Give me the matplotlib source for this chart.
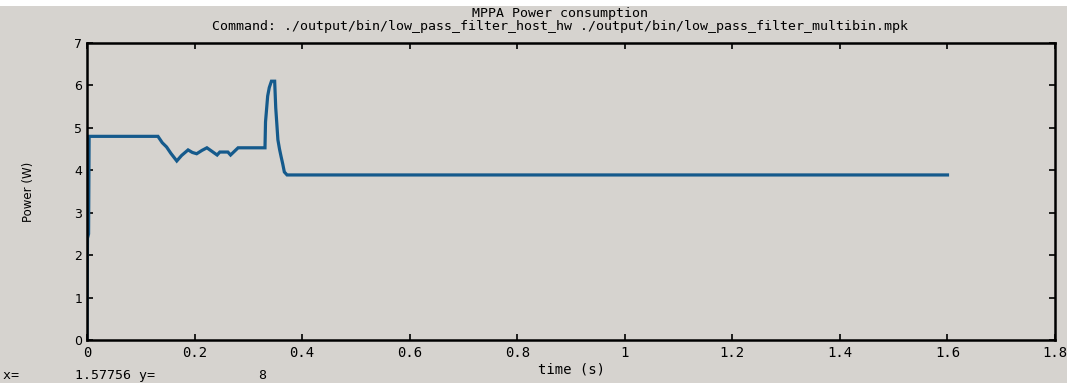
import matplotlib
matplotlib.use("Agg")
import matplotlib.pyplot as plt
from matplotlib.patches import Rectangle

# data
time_s = [0.0, 0.001, 0.003, 0.004, 0.132, 0.140, 0.148, 0.156, 0.167, 0.176, 0.188,
          0.196, 0.204, 0.214, 0.223, 0.232, 0.242, 0.247, 0.262, 0.267, 0.281,
          0.331, 0.332, 0.336, 0.339, 0.343, 0.349, 0.351, 0.353, 0.355, 0.358,
          0.361, 0.364, 0.367, 0.372, 1.60]
power_w = [0.0, 2.4, 2.5, 4.8, 4.8, 4.65, 4.55, 4.4, 4.22, 4.35, 4.48,
           4.42, 4.39, 4.47, 4.53, 4.45, 4.36, 4.43, 4.43, 4.36, 4.53,
           4.53, 5.14, 5.75, 5.95, 6.1, 6.1, 5.47, 5.1, 4.72, 4.5,
           4.32, 4.15, 3.96, 3.89, 3.89]

x_ticks = [0, 0.2, 0.4, 0.6, 0.8, 1, 1.2, 1.4, 1.6, 1.8]
x_tick_labels = ["0", "0.2", "0.4", "0.6", "0.8", "1", "1.2", "1.4", "1.6", "1.8"]
y_ticks = [0, 1, 2, 3, 4, 5, 6, 7]

bg = "#d6d3cf"
W, H = 1067, 383
fig = plt.figure(figsize=(W / 100, H / 100), dpi=100, facecolor=bg)
fig.patches.append(Rectangle((0, 1 - 6 / H), 1, 6 / H, transform=fig.transFigure,
                             facecolor="white", edgecolor="none", zorder=0))
ax = fig.add_axes([0.0815, 0.1123, 0.9073, 0.7754], facecolor=bg)

ax.plot(time_s, power_w, color="#155a8c", lw=2.3, solid_joinstyle="miter")

ax.set_xlim(0, 1.8)
ax.set_ylim(0, 7)
ax.set_xticks(x_ticks)
ax.set_xticklabels(x_tick_labels)
ax.set_yticks(y_ticks)
ax.tick_params(direction="in", length=4, width=1.2, top=True, right=True,
               labelsize=9, colors="black")
ax.tick_params(axis="x", labelsize=10, pad=4)
for lbl in ax.get_xticklabels():
    lbl.set_family("DejaVu Sans Mono")
for s in ax.spines.values():
    s.set_linewidth(1.8)
    s.set_color("black")

ax.set_xlabel("time (s)", family="DejaVu Sans Mono", fontsize=10, labelpad=2)
ax.set_ylabel("Power (W)", fontsize=8.5, labelpad=28)

mono = dict(family="DejaVu Sans Mono", fontsize=9.5)
fig.text(560 / W, 1 - 13 / H, "MPPA Power consumption", ha="center", va="center", **mono)
fig.text(560 / W, 1 - 26.5 / H,
         "Command: ./output/bin/low_pass_filter_host_hw ./output/bin/low_pass_filter_multibin.mpk",
         ha="center", va="center", **mono)
fig.text(3 / W, 1 / H, "x=       1.57756 y=             8", ha="left", va="bottom",
         family="DejaVu Sans Mono", fontsize=9.5)

fig.savefig("out.png", dpi=100, facecolor=bg)
